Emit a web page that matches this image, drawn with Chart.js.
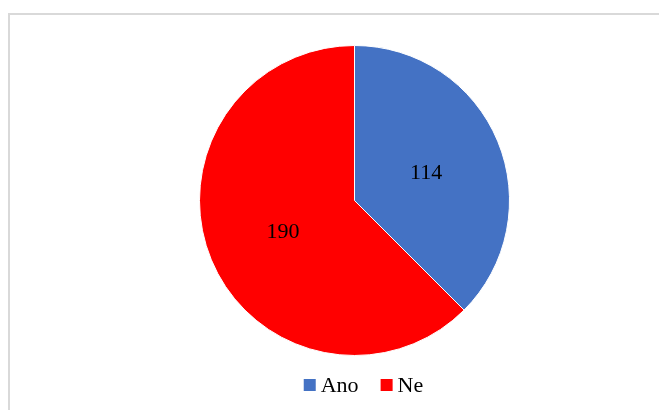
<!DOCTYPE html>
<html>
<head>
<meta charset="utf-8">
<script src="https://cdn.jsdelivr.net/npm/chart.js@4"></script>
<style>
html,body{margin:0;padding:0;background:#fff;}
#wrap{position:relative;width:659px;height:410px;}
</style>
</head>
<body>
<div id="wrap"><canvas id="c" width="659" height="410"></canvas></div>
<script>
const categories = ["Ano", "Ne"];
const values = [114, 190];
const colors = ["#4472C4", "#FF0000"];

const FONT = '"Liberation Serif", "Times New Roman", serif';

const frame = {
  id: 'frame',
  beforeDraw(chart) {
    const ctx = chart.ctx;
    ctx.save();
    ctx.fillStyle = '#fff';
    ctx.fillRect(0, 0, chart.width, chart.height);
    ctx.strokeStyle = '#d9d9d9';
    ctx.lineWidth = 2;
    ctx.beginPath();
    ctx.moveTo(9, chart.height);
    ctx.lineTo(9, 14);
    ctx.lineTo(chart.width, 14);
    ctx.stroke();
    ctx.restore();
  }
};

const sliceLabels = {
  id: 'sliceLabels',
  afterDatasetsDraw(chart) {
    const ctx = chart.ctx;
    const meta = chart.getDatasetMeta(0);
    ctx.save();
    ctx.fillStyle = '#000';
    ctx.font = '22px ' + FONT;
    ctx.textAlign = 'center';
    ctx.textBaseline = 'middle';
    meta.data.forEach((arc, i) => {
      const p = arc.tooltipPosition();
      ctx.fillText(String(chart.data.datasets[0].data[i]), p.x, p.y + 2);
    });
    ctx.restore();
  }
};

const customLegend = {
  id: 'customLegend',
  afterDraw(chart) {
    const ctx = chart.ctx;
    const labels = chart.data.labels;
    const bg = chart.data.datasets[0].backgroundColor;
    ctx.save();
    ctx.font = '22px ' + FONT;
    const box = 12, gapBox = 5, gapItem = 22;
    let total = 0;
    const widths = labels.map(l => ctx.measureText(l).width);
    widths.forEach((w, i) => { total += box + gapBox + w + (i < labels.length - 1 ? gapItem : 0); });
    let x = 363.5 - total / 2;
    const yBox = 379, baseline = 392;
    ctx.textBaseline = 'alphabetic';
    ctx.textAlign = 'left';
    labels.forEach((l, i) => {
      ctx.fillStyle = bg[i];
      ctx.fillRect(x, yBox, box, box);
      ctx.fillStyle = '#000';
      ctx.fillText(l, x + box + gapBox, baseline);
      x += box + gapBox + widths[i] + gapItem;
    });
    ctx.restore();
  }
};

new Chart(document.getElementById('c'), {
  type: 'pie',
  data: {
    labels: categories,
    datasets: [{
      data: values,
      backgroundColor: colors,
      borderColor: '#ffffff',
      borderWidth: 1
    }]
  },
  options: {
    responsive: false,
    animation: false,
    layout: { padding: { left: 199, right: 149, top: 45, bottom: 54 } },
    plugins: {
      tooltip: { enabled: false },
      legend: { display: false }
    }
  },
  plugins: [frame, sliceLabels, customLegend]
});
</script>
</body>
</html>
